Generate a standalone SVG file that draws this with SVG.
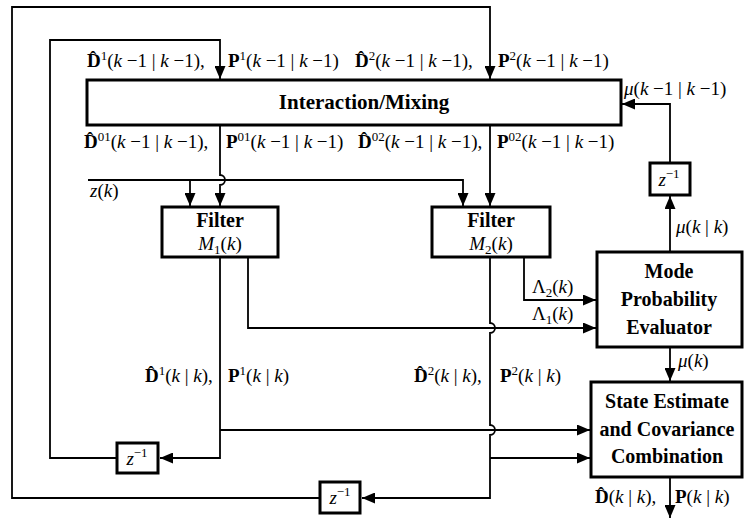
<svg xmlns="http://www.w3.org/2000/svg" width="746" height="520" viewBox="0 0 746 520">
<style>
.ln{fill:none;stroke:#000;stroke-width:1.8}
.bx{fill:#fff;stroke:#000;stroke-width:3}
.t{font-family:"Liberation Serif","Times New Roman",serif;font-size:19px;fill:#000}
.bt{font-family:"Liberation Serif","Times New Roman",serif;font-size:20px;font-weight:bold;fill:#000}
.b{font-weight:bold}
.i{font-style:italic}
.s{font-size:13px}
</style>
<defs>
<marker id="ah" markerUnits="userSpaceOnUse" markerWidth="14" markerHeight="11" refX="13" refY="5.5" orient="auto">
<path d="M0,0 L13,5.5 L0,11 z" fill="#000"/>
</marker>
</defs>
<rect width="746" height="520" fill="#fff"/>

<g id="connectors">
<path class="ln" d="M490 257 V323 a5 5 0 0 1 0 10 V425 a5 5 0 0 1 0 10 V498 H362" marker-end="url(#ah)"/>
<path class="ln" d="M490 458 H590" marker-end="url(#ah)"/>
<path class="ln" d="M320 498 H12 V7 H490 V79" marker-end="url(#ah)"/>
<path class="ln" d="M220 257 V458 H160" marker-end="url(#ah)"/>
<path class="ln" d="M220 430 H590" marker-end="url(#ah)"/>
<path class="ln" d="M117 458 H50 V40 H220 V79" marker-end="url(#ah)"/>
<path class="ln" d="M220 125 V175 a5 5 0 0 1 0 10 V206" marker-end="url(#ah)"/>
<path class="ln" d="M490 125 V206" marker-end="url(#ah)"/>
<path class="ln" d="M88 180 H463 V206" marker-end="url(#ah)"/>
<path class="ln" d="M190 180 V206" marker-end="url(#ah)"/>
<path class="ln" d="M248 257 V328 H596" marker-end="url(#ah)"/>
<path class="ln" d="M524 257 V300 H596" marker-end="url(#ah)"/>
<path class="ln" d="M670 252 V196" marker-end="url(#ah)"/>
<path class="ln" d="M670 163 V104 H622" marker-end="url(#ah)"/>
<path class="ln" d="M670 347 V381" marker-end="url(#ah)"/>
<path class="ln" d="M670 477 V518" marker-end="url(#ah)"/>
</g>

<g id="mixing">
<rect class="bx" x="87" y="80" width="534" height="45"/>
<text class="bt" x="364" y="109" text-anchor="middle" style="font-size:21px">Interaction/Mixing</text>
</g>
<g id="filter1">
<rect class="bx" x="162" y="207" width="116" height="50"/>
<text class="bt" x="220" y="227" text-anchor="middle">Filter</text>
<text class="t" x="220" y="250" text-anchor="middle"><tspan class="i">M</tspan><tspan class="s" dy="4">1</tspan><tspan dy="-4">(</tspan><tspan class="i">k</tspan>)</text>
</g>
<g id="filter2">
<rect class="bx" x="432" y="207" width="118" height="50"/>
<text class="bt" x="491" y="227" text-anchor="middle">Filter</text>
<text class="t" x="491" y="250" text-anchor="middle"><tspan class="i">M</tspan><tspan class="s" dy="4">2</tspan><tspan dy="-4">(</tspan><tspan class="i">k</tspan>)</text>
</g>
<g id="mode">
<rect class="bx" x="597" y="252" width="145" height="95"/>
<text class="bt" x="669" y="278" text-anchor="middle">Mode</text>
<text class="bt" x="669" y="306" text-anchor="middle">Probability</text>
<text class="bt" x="669" y="334" text-anchor="middle">Evaluator</text>
</g>
<g id="state">
<rect class="bx" x="591" y="382" width="151" height="95"/>
<text class="bt" x="667" y="408" text-anchor="middle">State Estimate</text>
<text class="bt" x="667" y="436" text-anchor="middle">and Covariance</text>
<text class="bt" x="667" y="463" text-anchor="middle">Combination</text>
</g>
<g id="delay-mu">
<rect class="bx" x="650" y="163" width="40" height="32"/>
<text class="t" x="669" y="186" text-anchor="middle"><tspan class="i">z</tspan><tspan class="s" dy="-8">−1</tspan></text>
</g>
<g id="delay-1">
<rect class="bx" x="117" y="443" width="41" height="30"/>
<text class="t" x="137" y="465" text-anchor="middle"><tspan class="i">z</tspan><tspan class="s" dy="-8">−1</tspan></text>
</g>
<g id="delay-2">
<rect class="bx" x="320" y="482" width="40" height="31"/>
<text class="t" x="340" y="504" text-anchor="middle"><tspan class="i">z</tspan><tspan class="s" dy="-8">−1</tspan></text>
</g>

<g id="labels" class="t">
<text x="87" y="67"><tspan class="b">D̂</tspan><tspan class="s" dy="-7">1</tspan><tspan dy="7">(</tspan><tspan class="i">k</tspan> −1 | <tspan class="i">k</tspan> −1),</text>
<text x="228" y="67"><tspan class="b">P</tspan><tspan class="s" dy="-7">1</tspan><tspan dy="7">(</tspan><tspan class="i">k</tspan> −1 | <tspan class="i">k</tspan> −1)</text>
<text x="355" y="67"><tspan class="b">D̂</tspan><tspan class="s" dy="-7">2</tspan><tspan dy="7">(</tspan><tspan class="i">k</tspan> −1 | <tspan class="i">k</tspan> −1),</text>
<text x="498" y="67"><tspan class="b">P</tspan><tspan class="s" dy="-7">2</tspan><tspan dy="7">(</tspan><tspan class="i">k</tspan> −1 | <tspan class="i">k</tspan> −1)</text>
<text x="624" y="95"><tspan class="i">μ</tspan>(<tspan class="i">k</tspan> −1 | <tspan class="i">k</tspan> −1)</text>
<text x="84" y="148"><tspan class="b">D̂</tspan><tspan class="s" dy="-7">01</tspan><tspan dy="7">(</tspan><tspan class="i">k</tspan> −1 | <tspan class="i">k</tspan> −1),</text>
<text x="226" y="148"><tspan class="b">P</tspan><tspan class="s" dy="-7">01</tspan><tspan dy="7">(</tspan><tspan class="i">k</tspan> −1 | <tspan class="i">k</tspan> −1)</text>
<text x="358" y="148"><tspan class="b">D̂</tspan><tspan class="s" dy="-7">02</tspan><tspan dy="7">(</tspan><tspan class="i">k</tspan> −1 | <tspan class="i">k</tspan> −1),</text>
<text x="497" y="148"><tspan class="b">P</tspan><tspan class="s" dy="-7">02</tspan><tspan dy="7">(</tspan><tspan class="i">k</tspan> −1 | <tspan class="i">k</tspan> −1)</text>
<text x="90" y="197"><tspan class="i">z</tspan>(<tspan class="i">k</tspan>)</text>
<text x="532" y="293">Λ<tspan class="s" dy="4">2</tspan><tspan dy="-4">(</tspan><tspan class="i">k</tspan>)</text>
<text x="532" y="320">Λ<tspan class="s" dy="4">1</tspan><tspan dy="-4">(</tspan><tspan class="i">k</tspan>)</text>
<text x="676" y="233"><tspan class="i">μ</tspan>(<tspan class="i">k</tspan> | <tspan class="i">k</tspan>)</text>
<text x="145" y="382"><tspan class="b">D̂</tspan><tspan class="s" dy="-7">1</tspan><tspan dy="7">(</tspan><tspan class="i">k</tspan> | <tspan class="i">k</tspan>),</text>
<text x="228" y="382"><tspan class="b">P</tspan><tspan class="s" dy="-7">1</tspan><tspan dy="7">(</tspan><tspan class="i">k</tspan> | <tspan class="i">k</tspan>)</text>
<text x="414" y="382"><tspan class="b">D̂</tspan><tspan class="s" dy="-7">2</tspan><tspan dy="7">(</tspan><tspan class="i">k</tspan> | <tspan class="i">k</tspan>),</text>
<text x="500" y="382"><tspan class="b">P</tspan><tspan class="s" dy="-7">2</tspan><tspan dy="7">(</tspan><tspan class="i">k</tspan> | <tspan class="i">k</tspan>)</text>
<text x="678" y="367"><tspan class="i">μ</tspan>(<tspan class="i">k</tspan>)</text>
<text x="595" y="503"><tspan class="b">D̂</tspan>(<tspan class="i">k</tspan> | <tspan class="i">k</tspan>),</text>
<text x="675" y="503"><tspan class="b">P</tspan>(<tspan class="i">k</tspan> | <tspan class="i">k</tspan>)</text>
</g>
</svg>
